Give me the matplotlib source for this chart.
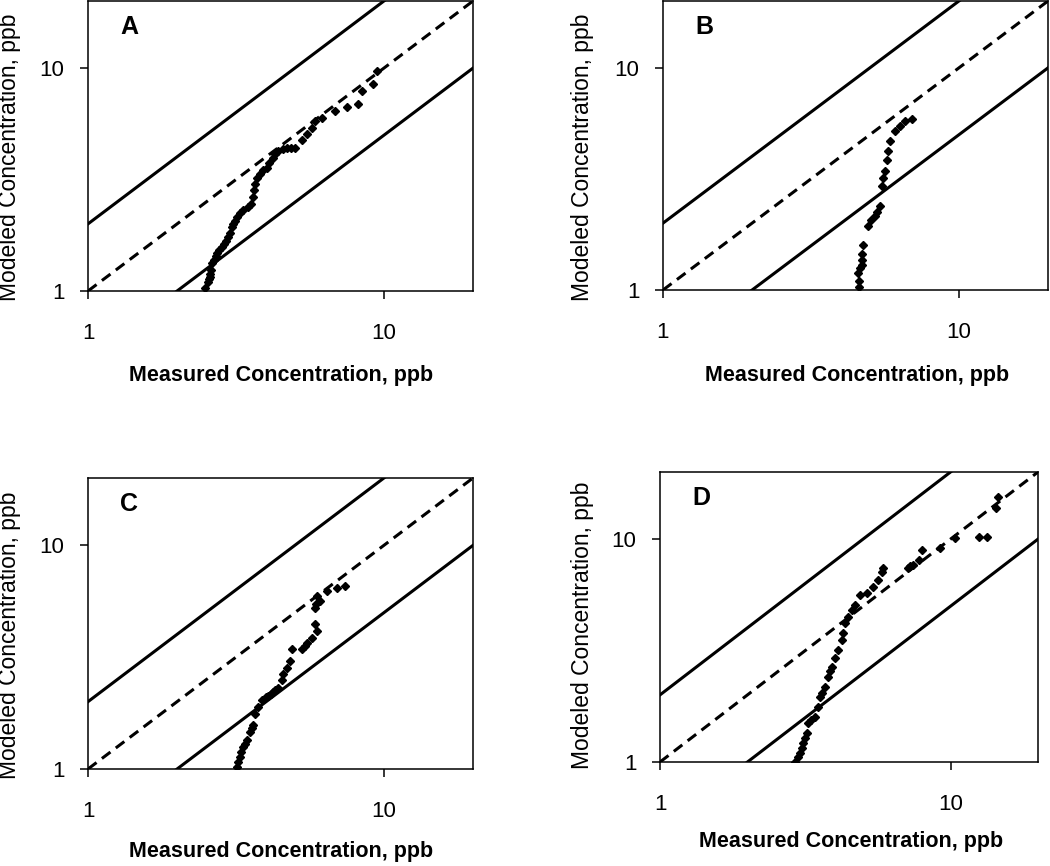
import numpy as np
import matplotlib
matplotlib.use('Agg')
import matplotlib.pyplot as plt

# Measured vs modeled concentrations (ppb) for the four panels
a_meas = [2.49, 2.55, 2.56, 2.58, 2.58, 2.60, 2.62, 2.66, 2.70, 2.73,
          2.78, 2.83, 2.88, 2.93, 2.97, 3.02, 3.06, 3.10, 3.14, 3.20,
          3.26, 3.35, 3.47, 3.55, 3.61, 3.64, 3.66, 3.72, 3.81, 3.90,
          4.02, 4.10, 4.21, 4.30, 4.38, 4.55, 4.70, 4.85, 5.0, 5.3,
          5.5, 5.7, 5.85, 6.2, 6.83, 7.5, 8.17, 8.4, 9.18, 9.46]
a_mod = [1.03, 1.10, 1.13, 1.16, 1.19, 1.24, 1.33, 1.38, 1.43, 1.48,
         1.52, 1.57, 1.62, 1.68, 1.74, 1.82, 1.93, 2.00, 2.07, 2.15,
         2.23, 2.30, 2.37, 2.45, 2.63, 2.85, 3.03, 3.20, 3.36, 3.48,
         3.58, 3.75, 3.96, 4.10, 4.26, 4.32, 4.39, 4.40, 4.40, 4.75,
         5.07, 5.40, 5.80, 6.00, 6.43, 6.70, 6.90, 7.90, 8.50, 9.70]

b_meas = [4.59, 4.59, 4.57, 4.62, 4.70, 4.70, 4.72, 4.75, 4.93, 5.05,
          5.20, 5.30, 5.41, 5.50, 5.55, 5.63, 5.70, 5.75, 5.85, 6.08,
          6.32, 6.57, 6.94]
b_mod = [1.03, 1.10, 1.19, 1.25, 1.29, 1.36, 1.45, 1.59, 1.95, 2.06,
         2.15, 2.24, 2.40, 2.95, 3.20, 3.45, 3.83, 4.24, 4.70, 5.21,
         5.49, 5.78, 5.90]

c_meas = [3.19, 3.22, 3.26, 3.30, 3.34, 3.40, 3.45, 3.52, 3.57, 3.61,
          3.66, 3.75, 3.87, 4.00, 4.06, 4.15, 4.21, 4.30, 4.38, 4.52,
          4.55, 4.70, 4.81, 4.89, 5.28, 5.40, 5.50, 5.70, 5.94, 5.85,
          5.85, 5.90, 6.08, 5.94, 6.42, 6.94, 7.38]
c_mod = [1.02, 1.08, 1.13, 1.19, 1.25, 1.30, 1.35, 1.46, 1.52, 1.57,
         1.77, 1.90, 2.03, 2.10, 2.13, 2.17, 2.20, 2.25, 2.31, 2.49,
         2.67, 2.84, 3.05, 3.45, 3.45, 3.55, 3.67, 3.86, 4.15, 4.46,
         5.25, 5.45, 5.63, 5.94, 6.25, 6.43, 6.57]

d_meas = [2.92, 2.98, 3.04, 3.08, 3.11, 3.16, 3.21, 3.24, 3.30, 3.42,
          3.50, 3.56, 3.62, 3.70, 3.79, 3.85, 3.91, 4.00, 4.10, 4.23,
          4.27, 4.34, 4.44, 4.59, 4.70, 4.89, 5.17, 5.42, 5.64, 5.82,
          5.87, 7.11, 7.25, 7.40, 7.76, 8.00, 9.22, 10.4, 12.5, 13.4,
          14.3, 14.6]
d_mod = [1.00, 1.05, 1.10, 1.16, 1.22, 1.28, 1.35, 1.50, 1.55, 1.59,
         1.76, 1.96, 2.05, 2.17, 2.40, 2.55, 2.67, 2.93, 3.18, 3.52,
         3.79, 4.20, 4.48, 4.80, 5.06, 5.60, 5.73, 6.09, 6.55, 7.10,
         7.40, 7.40, 7.55, 7.64, 8.05, 8.90, 9.10, 10.1, 10.2, 10.2,
         13.8, 15.4]

panel_letters = ['A', 'B', 'C', 'D']
axis_ticks = [1, 10]
axis_lims = [1, 20]
ref = np.array([1, 20])   # 1:1 line, with factor-of-2 lines either side

plt.rcParams['font.family'] = ['Liberation Sans', 'DejaVu Sans']

W, H = 1050, 866
fig = plt.figure(figsize=(W / 100, H / 100), dpi=100)


def px_box(left, top, right, bottom):
    # axes rectangle from pixel edges
    return [left / W, 1 - bottom / H, (right - left) / W, (bottom - top) / H]


def px_text(x, y, s, **kw):
    fig.text(x / W, 1 - y / H, s, **kw)


boxes = [(88, 1, 473, 291), (663, 1, 1048, 290),
         (88, 478, 473, 769), (660, 472, 1038, 762)]
data = [(a_meas, a_mod), (b_meas, b_mod), (c_meas, c_mod), (d_meas, d_mod)]
ylabel_pos = [(10, 157), (582, 157), (10, 635), (582, 625)]
xlabel_pos = [(281, 376), (857, 376), (281, 851), (851, 842)]

for box, (meas, mod), letter, ylp, xlp in zip(boxes, data, panel_letters,
                                              ylabel_pos, xlabel_pos):
    ax = fig.add_axes(px_box(*box))
    ax.set_xscale('log')
    ax.set_yscale('log')
    ax.plot(ref, ref, color='black', lw=2.2, ls=(0, (3.5, 2.2)))
    ax.plot(ref, 2 * ref, color='black', lw=2.2)
    ax.plot(ref, ref / 2, color='black', lw=2.2)
    ax.plot(meas, mod, ls='none', marker='D', ms=4.2, color='black')
    ax.set_xlim(axis_lims)
    ax.set_ylim(axis_lims)
    ax.set_xticks(axis_ticks)
    ax.set_yticks(axis_ticks)
    ax.set_xticklabels([str(t) for t in axis_ticks], fontsize=16)
    ax.set_yticklabels([str(t) for t in axis_ticks], fontsize=16)
    ax.minorticks_off()
    ax.tick_params(axis='both', direction='out', length=6, width=1.1)
    ax.tick_params(axis='x', pad=17)
    ax.tick_params(axis='y', pad=11)
    for sp in ax.spines.values():
        sp.set_linewidth(1.1)
    # panel letter, placed ~41 px in from the left and 26 px down from the top
    ax.text(41 / (box[2] - box[0]), 1 - 26 / (box[3] - box[1]), letter,
            transform=ax.transAxes, fontsize=18, fontweight='bold',
            ha='center', va='center')
    px_text(ylp[0], ylp[1], 'Modeled Concentration, ppb', rotation=90,
            fontsize=16.5, ha='center', va='center')
    px_text(xlp[0], xlp[1], 'Measured Concentration, ppb', fontsize=15.5,
            fontweight='bold', ha='center', va='center')

fig.savefig('out.png', dpi=100)
